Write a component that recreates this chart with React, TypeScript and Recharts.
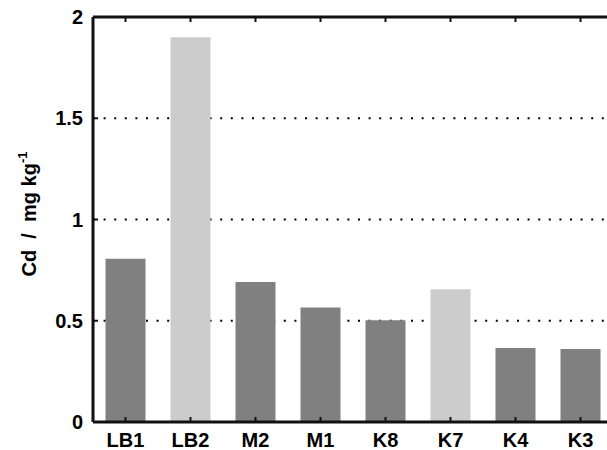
import React from 'react';
import { BarChart, Bar, XAxis, YAxis, CartesianGrid, Cell } from 'recharts';

const categories = ['LB1', 'LB2', 'M2', 'M1', 'K8', 'K7', 'K4', 'K3'];
const cdValues = [0.806, 1.9, 0.691, 0.566, 0.502, 0.656, 0.365, 0.36];
const lightCategories = ['LB2', 'K7'];
const yTicks = [0, 0.5, 1, 1.5, 2];
const yDomain: [number, number] = [0, 2];
const gridValues = [0.5, 1, 1.5];

const data = categories.map((name, i) => ({ name, cd: cdValues[i] }));

const DARK = '#808080';
const LIGHT = '#cccccc';
const AXIS = '#111111';
const FONT = '"Liberation Sans", Arial, Helvetica, sans-serif';

const YLabel = () => (
  <text
    x={36}
    y={214}
    transform="rotate(-90, 36, 214)"
    textAnchor="middle"
    fontFamily={FONT}
    fontWeight="bold"
    fontSize={20}
    fill="#000"
    style={{ whiteSpace: 'pre' }}
  >
    <tspan>{'Cd  /  mg kg'}</tspan>
    <tspan fontSize={13} dy={-9}>{'-1'}</tspan>
  </text>
);

const gridGen = (props: any) => {
  const yAxis = props && props.yAxis;
  if (yAxis && typeof yAxis.scale === 'function') {
    return gridValues.map((v) => yAxis.scale(v));
  }
  const off = props.offset;
  return gridValues.map(
    (v) => off.top + off.height * (1 - (v - yDomain[0]) / (yDomain[1] - yDomain[0]))
  );
};

export default function App() {
  return (
    <div style={{ position: 'absolute', left: 0, top: 0, width: 607, height: 450, overflow: 'hidden', background: '#fff' }}>
      <BarChart
        width={620}
        height={450}
        data={data}
        margin={{ top: 16, right: 7, left: 0, bottom: 0 }}
        barCategoryGap={12.5}
      >
        <CartesianGrid
          vertical={false}
          stroke="#000"
          strokeWidth={2}
          strokeDasharray="2 8.6"
          horizontalCoordinatesGenerator={gridGen}
        />
        <Bar dataKey="cd" isAnimationActive={false}>
          {data.map((d) => (
            <Cell key={d.name} fill={lightCategories.includes(d.name) ? LIGHT : DARK} />
          ))}
        </Bar>
        <XAxis
          dataKey="name"
          height={28}
          interval={0}
          stroke={AXIS}
          strokeWidth={3}
          axisLine={{ stroke: AXIS, strokeWidth: 3 }}
          tickLine={{ stroke: AXIS, strokeWidth: 2 }}
          tickSize={-5}
          tickMargin={16}
          tick={{ fill: '#000', stroke: 'none', fontSize: 20, fontWeight: 'bold', fontFamily: FONT }}
        />
        <XAxis
          xAxisId="top"
          dataKey="name"
          orientation="top"
          height={1}
          interval={0}
          stroke={AXIS}
          strokeWidth={3}
          axisLine={{ stroke: AXIS, strokeWidth: 3 }}
          tickLine={{ stroke: AXIS, strokeWidth: 2 }}
          tickSize={-5}
          tickFormatter={() => ''}
        />
        <YAxis
          width={93}
          domain={yDomain}
          ticks={yTicks}
          interval={0}
          stroke={AXIS}
          strokeWidth={3}
          axisLine={{ stroke: AXIS, strokeWidth: 3 }}
          tickLine={{ stroke: AXIS, strokeWidth: 2 }}
          tickSize={-5}
          tickMargin={15}
          tick={{ fill: '#000', stroke: 'none', fontSize: 20, fontWeight: 'bold', fontFamily: FONT }}
          tickFormatter={(v: number) => String(v)}
          label={{ content: () => <YLabel /> }}
        />
      </BarChart>
    </div>
  );
}
